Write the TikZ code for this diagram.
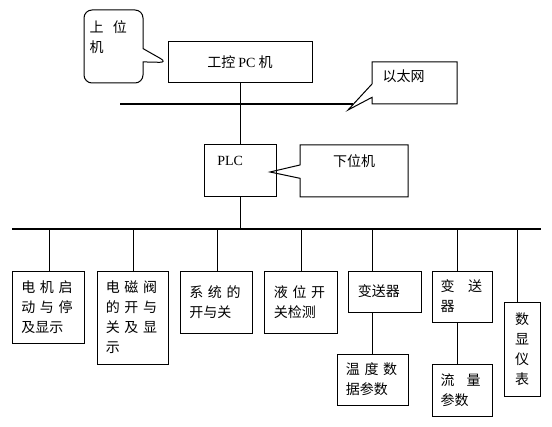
\documentclass[tikz,border=0pt]{standalone}
\usepackage{fontspec}
\setmainfont{Noto Sans CJK SC}
\newfontfamily\latinfont{Liberation Serif}
\usetikzlibrary{shapes.callouts}

\begin{document}
\begin{tikzpicture}[x=0.75pt, y=-0.75pt, line width=0.75pt,
  box/.style={draw, inner sep=0pt, font=\fontsize{10.5}{15}\selectfont},
  wh/.style 2 args={minimum width=#1*0.75pt, minimum height=#2*0.75pt},
  callme/.style={box, rectangle callout, callout pointer width=10pt},
  bus/.style={line width=1.6pt}]
  \useasboundingbox (0,0) rectangle (552,427);

  % 1) upper level: PC and ethernet
  \node[box, wh={144}{41}] (pc) at (240,62.5) {工控 {\latinfont PC} 机\\[-3pt]\mbox{}};
  \node[callme, wh={59}{73}, rounded corners=6pt, text width=36pt, align=left,
        callout absolute pointer={(pc.west)}] (upper) at (113.5,46.5) {上~~位\\机\\\mbox{}};

  \coordinate (ethL) at (120,104);
  \coordinate (ethR) at (353,104);
  \coordinate (ethtip) at (348,110);
  \draw[bus] (ethL) -- (ethR);
  \node[callme, wh={85}{42}, text width=48pt, align=left,
        callout absolute pointer={(ethtip)}] (eth) at (414.5,83) {以太网\\[-4pt]\mbox{}};

  % 2) lower level: PLC
  \node[box, wh={72}{52}, text width=34pt, align=left] (plc) at (240,171) {{\latinfont PLC}\\\mbox{}};
  \coordinate (plctip) at (270,172);
  \node[callme, wh={108}{52}, text width=60pt, align=center,
        callout absolute pointer={(plctip)}] (lower) at (354,171) {下位机\\\mbox{}};
  \draw (pc) -- (plc);

  % 3) field bus
  \coordinate (busL) at (12,229);
  \coordinate (busR) at (541,229);
  \draw[bus] (busL) -- (busR);
  \draw (plc) -- (plc |- busL);

  % 4) field devices
  \node[box, wh={72}{72}, text width=40pt, align=left] (b1) at (48,307)
    {电~机~启\\动~与~停\\及显示};
  \node[box, wh={71}{93}, text width=40pt, align=left] (b2) at (132.5,317.5)
    {电~磁~阀\\的~开~与\\关~及~显\\示};
  \node[box, wh={72}{62}, text width=40pt, align=left] (b3) at (216,302)
    {系~统~的\\开与关};
  \node[box, wh={73}{62}, text width=40pt, align=left] (b4) at (300.5,302)
    {液~位~开\\关检测};
  \node[box, wh={73}{41}, text width=40pt, align=left] (b5) at (384.5,291.5)
    {变送器};
  \node[box, wh={71}{51}, text width=40pt, align=left] (t5) at (372.5,379.5)
    {温~度~数\\据参数};
  \node[box, wh={60}{51}, text width=32pt, align=left] (b6) at (462,296.5)
    {变\hspace{10pt}送\\器};
  \node[box, wh={60}{52}, text width=32pt, align=left] (t6) at (462,390)
    {流\hspace{9pt}量\\参数};
  \node[box, wh={36}{94}, text width=20pt, align=center] (b7) at (522,349)
    {数\\显\\仪\\表};

  % drops from the bus
  \foreach \n/\x in {b1/49, b2/133, b3/217, b4/301, b5/372, b6/457, b7/517} {
    \coordinate (top-\n) at (\x,229);
    \draw (top-\n) -- (top-\n |- \n.north);
  }
  \draw (top-b5 |- b5.south) -- (top-b5 |- t5.north);
  \draw (top-b6 |- b6.south) -- (top-b6 |- t6.north);
\end{tikzpicture}
\end{document}
